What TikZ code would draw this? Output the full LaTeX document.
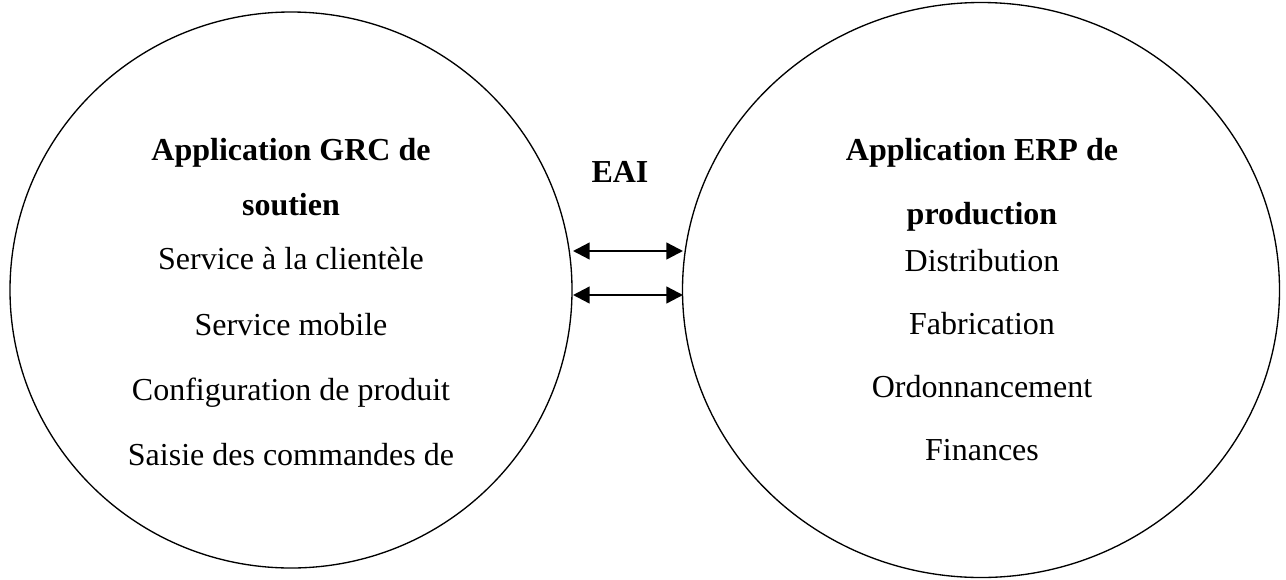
\documentclass[tikz,border=0pt]{standalone}
\usepackage{fontspec}
\setmainfont{Liberation Serif}
\usetikzlibrary{shapes.geometric,arrows.meta}
\begin{document}
\begin{tikzpicture}[x=0.75pt,y=-0.75pt,
  bubble/.style={draw,ellipse,line width=1pt,inner sep=0pt},
  title/.style={font=\fontsize{24}{28}\selectfont\bfseries,anchor=base},
  item/.style={font=\fontsize{24}{28}\selectfont,anchor=base},
  link/.style={line width=1.8pt,{Triangle[length=12.5pt,width=12.5pt]}-{Triangle[length=12.5pt,width=12.5pt]}}]
\useasboundingbox (0,0) rectangle (1286,579);
\node[bubble,minimum width=421.5pt,minimum height=417pt] (L) at (291,290) {};
\node[bubble,minimum width=447.75pt,minimum height=431.25pt] (R) at (981,290) {};
\node[title] (l1) at (291,160) {Application GRC de};
\node[title] (l2) at (291,215) {soutien};
\node[item] (l3) at (291,269) {Service à la clientèle};
\node[item] (l4) at (291,335) {Service mobile};
\node[item] (l5) at (291,400) {Configuration de produit};
\node[item] (l6) at (291,465) {Saisie des commandes de};
\node[title] (r1) at (982,160) {Application ERP de};
\node[title] (r2) at (982,224) {production};
\node[item] (r3) at (982,271) {Distribution};
\node[item] (r4) at (982,334) {Fabrication};
\node[item] (r5) at (982,397) {Ordonnancement};
\node[item] (r6) at (982,460) {Finances};
\node[title] (eai) at (620,182) {EAI};
\coordinate (a1) at (573,251);
\coordinate (b1) at (683,251);
\coordinate (a2) at (573,295);
\coordinate (b2) at (683,295);
\draw[link] (a1) -- (b1);
\draw[link] (a2) -- (b2);
\end{tikzpicture}
\end{document}
